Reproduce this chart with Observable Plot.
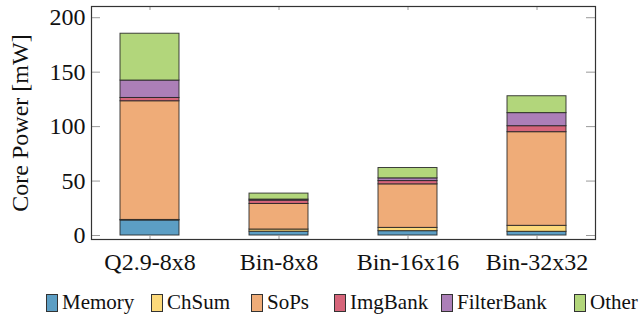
<!DOCTYPE html>
<html><head><meta charset="utf-8">
<script src="https://cdn.jsdelivr.net/npm/d3@7"></script>
<script src="https://cdn.jsdelivr.net/npm/@observablehq/plot@0.6"></script>
<style>
body{margin:0;background:#fff;font-family:"Liberation Serif",serif;}
#chart{position:relative;width:639px;height:322px;overflow:hidden}
#legend{position:absolute;left:0;top:292px;width:639px;height:26px;font-size:21px;color:#111;white-space:nowrap;line-height:1}
.item{position:absolute;top:0;display:flex;align-items:center}
.sw{width:12px;height:18px;border:1px solid #333;margin-right:4px;box-sizing:border-box}
</style></head>
<body><div id="chart"></div>
<script>
const categories = ["Q2.9-8x8", "Bin-8x8", "Bin-16x16", "Bin-32x32"];
const components = ["Memory", "ChSum", "SoPs", "ImgBank", "FilterBank", "Other"];
const memory     = [13.8, 3.5, 4.0, 3.4];
const chsum      = [0.5, 2.0, 3.0, 5.5];
const sops       = [109, 23.5, 40, 86];
const imgbank    = [3.0, 3.0, 3.0, 5.5];
const filterbank = [16, 1.0, 2.5, 12];
const other      = [43, 5.5, 9.5, 15.5];
const colors = ["#5c9ec4", "#fcd97a", "#efac78", "#d6657a", "#ac7fb8", "#b2d67b"];
const yTicks = [0, 50, 100, 150, 200];
const yLabel = "Core Power [mW]";

const series = [memory, chsum, sops, imgbank, filterbank, other];
const data = [];
components.forEach((c, j) => categories.forEach((cat, i) => data.push({cat, comp: c, value: series[j][i]})));

const W = 639, H = 278, mL = 91, mR = 44, mT = 6, mB = 39;
const fw = W - mL - mR, fh = H - mT - mB;

const chart = Plot.plot({
  width: W, height: H,
  marginLeft: mL, marginRight: mR, marginTop: mT, marginBottom: mB,
  style: {fontFamily: "Liberation Serif, serif", fontSize: "24px", color: "#111", background: "#fff"},
  x: {domain: categories, paddingInner: 0.545, paddingOuter: 0.215, axis: null},
  y: {domain: [-3.66, 210.3], axis: null},
  color: {domain: components, range: colors},
  marks: [
    Plot.barY(data, Plot.stackY({x: "cat", y: "value", fill: "comp", order: components, stroke: "#222", strokeWidth: 1, strokeOpacity: 0.85})),
    Plot.tickY(yTicks, {y: d => d, stroke: "#9a9a9a", insetRight: fw - 9}),
    Plot.tickY(yTicks, {y: d => d, stroke: "#9a9a9a", insetLeft: fw - 9}),
    Plot.tickX(categories, {x: d => d, stroke: "#9a9a9a", insetTop: fh - 4}),
    Plot.tickX(categories, {x: d => d, stroke: "#9a9a9a", insetBottom: fh - 4}),
    Plot.axisY(yTicks, {tickSize: 0, tickPadding: 6, fontSize: 24, label: null}),
    Plot.axisX({tickSize: 0, tickPadding: 13, fontSize: 24, label: null}),
    Plot.text([yLabel], {text: d => d, frameAnchor: "left", textAnchor: "middle", rotate: -90, dx: -71, fontSize: 24}),
    Plot.frame({stroke: "#333", strokeWidth: 1.2})
  ]
});
const root = document.getElementById("chart");
root.appendChild(chart);

const legendX = [46, 151, 251, 334, 441, 574];
const legend = document.createElement("div");
legend.id = "legend";
components.forEach((c, j) => {
  const item = document.createElement("div");
  item.className = "item";
  item.style.left = legendX[j] + "px";
  const sw = document.createElement("span");
  sw.className = "sw";
  sw.style.background = colors[j];
  item.appendChild(sw);
  item.appendChild(document.createTextNode(c));
  legend.appendChild(item);
});
root.appendChild(legend);
</script>
</body></html>
